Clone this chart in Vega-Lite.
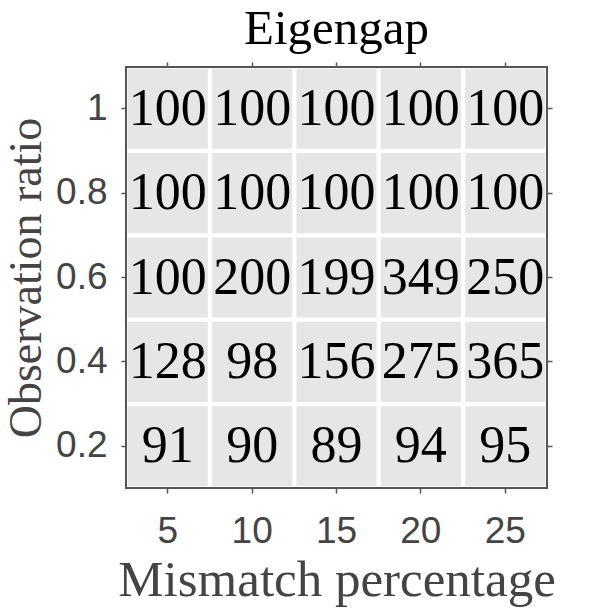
{
  "$schema": "https://vega.github.io/schema/vega-lite/v6.json",
  "width": 421,
  "height": 421,
  "autosize": {"type": "none"},
  "padding": {"left": 126, "top": 67, "right": 51, "bottom": 124},
  "background": "white",
  "title": {"text": "Eigengap", "font": "Liberation Serif", "fontSize": 49, "fontWeight": "normal", "color": "black", "offset": 7, "anchor": "middle"},
  "config": {
    "view": {"stroke": "#555555", "strokeWidth": 2, "fill": "white"},
    "axis": {"domain": false, "grid": false, "tickColor": "#555555", "tickWidth": 1.5, "tickSize": 5, "labelFont": "Liberation Sans", "labelFontSize": 37, "labelColor": "#444444", "titleFont": "Liberation Serif", "titleFontSize": 51, "titleFontWeight": "normal", "titleColor": "#444444"}
  },
  "data": {"values": [
    {"m": 5, "r": 1, "v": 100}, {"m": 10, "r": 1, "v": 100}, {"m": 15, "r": 1, "v": 100}, {"m": 20, "r": 1, "v": 100}, {"m": 25, "r": 1, "v": 100},
    {"m": 5, "r": 0.8, "v": 100}, {"m": 10, "r": 0.8, "v": 100}, {"m": 15, "r": 0.8, "v": 100}, {"m": 20, "r": 0.8, "v": 100}, {"m": 25, "r": 0.8, "v": 100},
    {"m": 5, "r": 0.6, "v": 100}, {"m": 10, "r": 0.6, "v": 200}, {"m": 15, "r": 0.6, "v": 199}, {"m": 20, "r": 0.6, "v": 349}, {"m": 25, "r": 0.6, "v": 250},
    {"m": 5, "r": 0.4, "v": 128}, {"m": 10, "r": 0.4, "v": 98}, {"m": 15, "r": 0.4, "v": 156}, {"m": 20, "r": 0.4, "v": 275}, {"m": 25, "r": 0.4, "v": 365},
    {"m": 5, "r": 0.2, "v": 91}, {"m": 10, "r": 0.2, "v": 90}, {"m": 15, "r": 0.2, "v": 89}, {"m": 20, "r": 0.2, "v": 94}, {"m": 25, "r": 0.2, "v": 95}
  ]},
  "layer": [
    {
      "mark": {"type": "rect", "fill": "#e6e6e6"},
      "encoding": {
        "x": {"field": "m", "type": "ordinal", "sort": "ascending", "scale": {"paddingInner": 0.05, "paddingOuter": 0.02}, "axis": {"title": "Mismatch percentage", "labelAngle": 0, "labelPadding": 20, "titlePadding": 6}},
        "y": {"field": "r", "type": "ordinal", "sort": "descending", "scale": {"paddingInner": 0.05, "paddingOuter": 0.02}, "axis": {"title": "Observation ratio", "titleFontSize": 46, "labelPadding": 14, "titlePadding": 5}}
      }
    },
    {
      "mark": {"type": "text", "font": "Liberation Serif", "fontSize": 52, "color": "black", "baseline": "middle", "align": "center"},
      "encoding": {
        "x": {"field": "m", "type": "ordinal", "sort": "ascending", "axis": {"orient": "top", "labels": false, "title": null}},
        "y": {"field": "r", "type": "ordinal", "sort": "descending", "axis": {"orient": "right", "labels": false, "title": null}},
        "text": {"field": "v", "type": "quantitative"}
      }
    }
  ],
  "resolve": {"axis": {"x": "independent", "y": "independent"}}
}
